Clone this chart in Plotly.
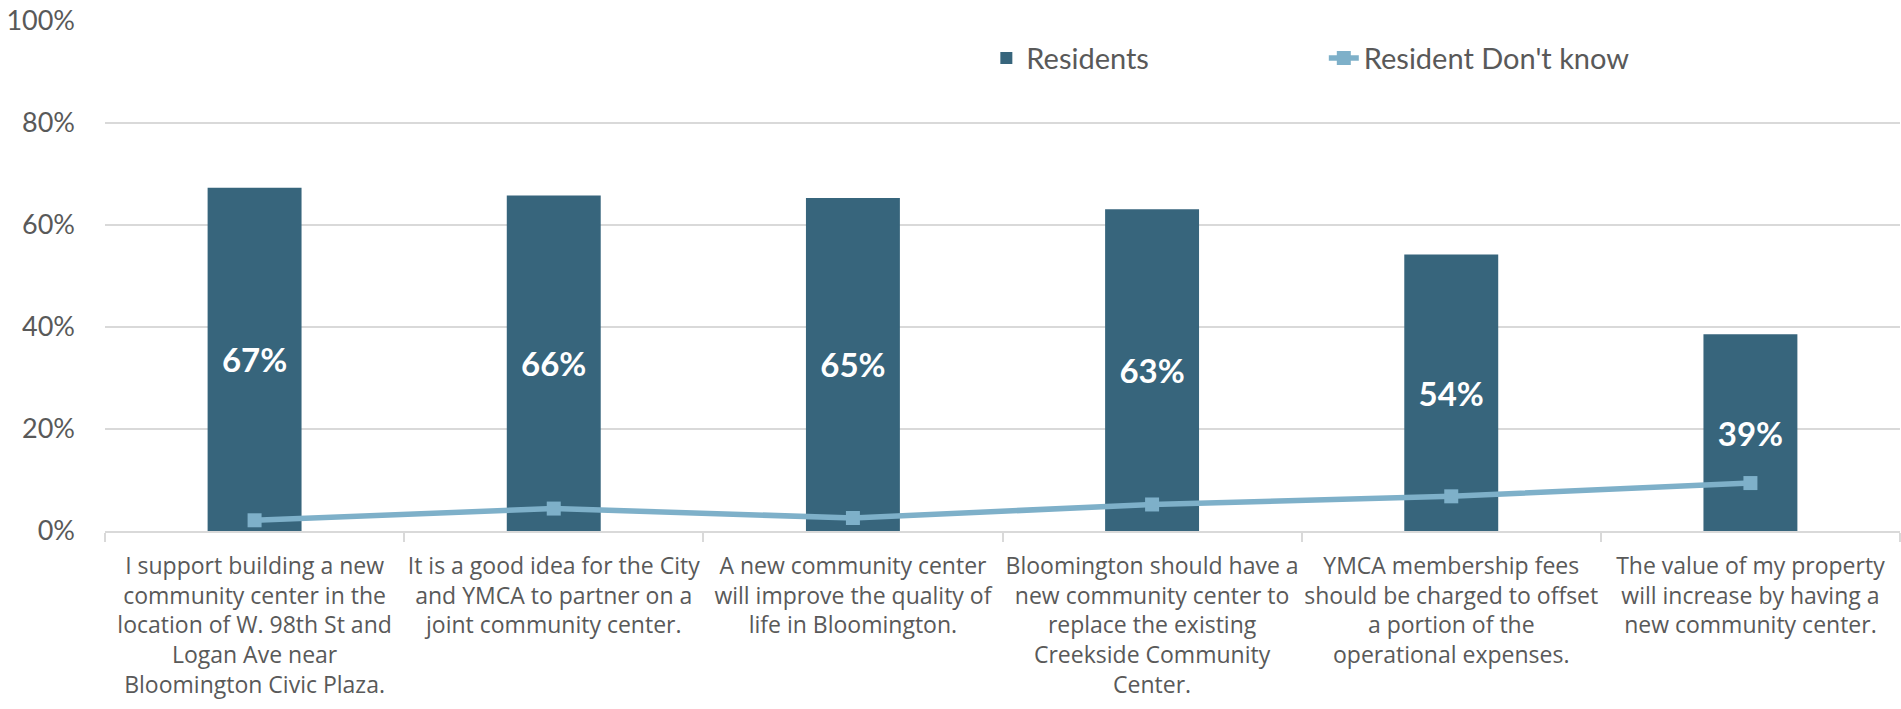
import plotly.graph_objects as go

categories = [
    "I support building a new<br>community center in the<br>location of W. 98th St and<br>Logan Ave near<br>Bloomington Civic Plaza.",
    "It is a good idea for the City<br>and YMCA to partner on a<br>joint community center.",
    "A new community center<br>will improve the quality of<br>life in Bloomington.",
    "Bloomington should have a<br>new community center to<br>replace the existing<br>Creekside Community<br>Center.",
    "YMCA membership fees<br>should be charged to offset<br>a portion of the<br>operational expenses.",
    "The value of my property<br>will increase by having a<br>new community center.",
]
residents = [67.3, 65.8, 65.3, 63.1, 54.2, 38.6]
dont_know = [2.1, 4.4, 2.55, 5.2, 6.8, 9.4]
y_ticks = [0, 20, 40, 60, 80, 100]
y_tick_labels = ["0%", "20%", "40%", "60%", "80%", "100%"]

BAR = "#37657C"
LINE = "#7EB0C9"
TXT = "#595959"
GRID = "#D9D9D9"
FONT = "Lato"

fig = go.Figure()
fig.add_trace(go.Bar(
    x=categories, y=residents, name="Residents",
    marker=dict(color=BAR, line=dict(width=0)),
    width=0.314,
    texttemplate="%{y:.0f}%", textposition="inside", insidetextanchor="middle",
    textangle=0, constraintext="none",
    textfont=dict(family=FONT, size=33, color="white", weight="bold"),
    legend="legend",
))
fig.add_trace(go.Scatter(
    x=categories, y=dont_know, name="Resident Don't know",
    mode="lines+markers",
    line=dict(color=LINE, width=5.5),
    marker=dict(symbol="square", size=14, color=LINE),
    legend="legend2",
))

fig.update_layout(
    width=1901, height=709,
    margin=dict(l=105, r=1, t=21, b=178, autoexpand=False),
    plot_bgcolor="white", paper_bgcolor="white",
    font=dict(family=FONT, color=TXT),
    showlegend=True,
    legend=dict(x=0.491, y=0.927, xanchor="left", yanchor="middle",
                font=dict(family=FONT, size=29, color=TXT),
                bgcolor="rgba(0,0,0,0)"),
    legend2=dict(x=0.679, y=0.927, xanchor="left", yanchor="middle",
                 font=dict(family=FONT, size=29, color=TXT),
                 bgcolor="rgba(0,0,0,0)"),
    bargap=0.686,
)
fig.update_xaxes(
    type="category", tickson="boundaries", ticks="outside", ticklen=9,
    tickcolor=GRID, tickwidth=2,
    showline=True, linecolor=GRID, linewidth=2,
    showgrid=False, tickangle=0, automargin=False,
    tickfont=dict(family="Open Sans", size=23, color=TXT),
    ticklabelstandoff=13,
)
fig.update_yaxes(
    range=[0, 100], tickvals=y_ticks, ticktext=y_tick_labels,
    showgrid=True, gridcolor=GRID, gridwidth=2,
    zeroline=False, showline=False, automargin=False,
    tickfont=dict(family=FONT, size=27, color=TXT),
    ticklabelstandoff=29,
)

fig.write_html("out.html", config={"displayModeBar": False},
               post_script="document.body.style.margin='0';")
